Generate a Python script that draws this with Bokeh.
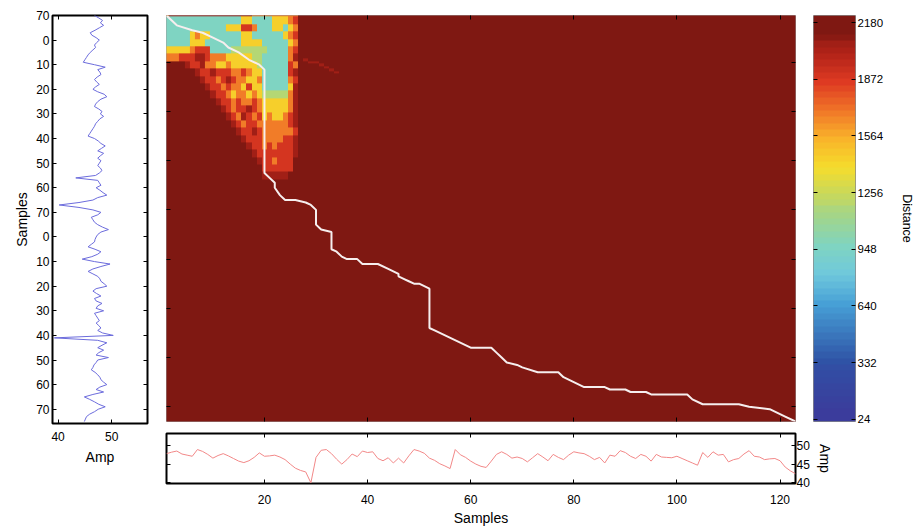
import numpy as np
from bokeh.plotting import figure
from bokeh.models import Range1d, LinearAxis, FixedTicker, LinearColorMapper
from bokeh.layouts import row, column
from bokeh.embed import file_html
from bokeh.resources import INLINE

FONT = "Liberation Sans"

# ---------------------------------------------------------------- data
# query signal (vertical, left panel), one value per sample 1..166
QUERY_AMP = [
    46.8, 47.6, 48.3, 47.9, 48.5, 47.7, 46.9, 46.0, 46.3, 47.1,
    47.7, 47.2, 46.8, 47.0, 46.5, 46.0, 45.6, 45.3, 45.0, 44.7,
    46.8, 48.8, 47.4, 47.8, 48.0, 47.3, 46.8, 47.2, 47.7, 47.0,
    46.5, 47.4, 48.6, 49.1, 48.0, 47.4, 47.0, 46.8, 47.6, 48.2,
    47.9, 48.5, 47.8, 47.4, 47.0, 46.8, 46.5, 46.2, 45.9, 45.6,
    46.8, 47.5, 48.0, 48.8, 48.1, 47.4, 48.5, 47.9, 47.4, 48.0,
    47.7, 47.4, 47.9, 48.2, 47.7, 47.0, 43.3, 47.4, 47.7, 48.0,
    47.1, 47.8, 48.4, 49.1, 47.4, 46.5, 43.9, 40.2, 43.9, 46.5,
    48.0, 47.4, 46.2, 46.5, 46.8, 47.4, 48.3, 49.4, 48.0, 47.4,
    47.1, 46.9, 46.8, 46.2, 45.6, 46.9, 48.0, 47.4, 46.3, 44.5,
    46.8, 49.7, 48.0, 46.5, 45.6, 46.5, 47.4, 47.8, 48.0, 48.6,
    49.1, 47.1, 46.5, 47.2, 48.0, 46.8, 47.1, 48.2, 47.4, 47.1,
    48.5, 46.8, 47.1, 47.4, 47.7, 47.1, 47.6, 48.0, 47.4, 48.3,
    50.3, 39.3, 47.4, 49.1, 48.2, 47.4, 48.5, 47.6, 47.1, 49.4,
    47.4, 47.1, 46.7, 46.5, 46.2, 46.9, 47.4, 47.8, 48.0, 48.5,
    49.1, 47.8, 47.1, 48.5, 46.5, 44.9, 45.9, 46.8, 47.6, 48.8,
    47.5, 46.8, 45.9, 45.3, 45.1, 44.9,
]

# reference signal (horizontal, bottom panel), one value per sample 1..123
REF_AMP = [
    47.8, 48.2, 48.5, 47.7, 47.4, 47.1, 48.9, 48.4, 47.6, 46.6,
    47.3, 47.8, 47.2, 46.5, 45.8, 45.4, 45.9, 46.8, 48.0, 47.1,
    47.2, 47.4, 46.9, 46.2, 45.0, 43.9, 43.3, 42.9, 40.0, 46.8,
    48.7, 48.9, 47.8, 46.3, 45.0, 46.2, 47.7, 47.0, 48.5, 48.1,
    48.3, 46.5, 45.9, 46.7, 45.3, 46.6, 45.3, 47.2, 48.9, 48.5,
    47.9, 46.6, 46.0, 45.1, 44.5, 43.8, 48.9, 47.5, 46.8, 45.8,
    45.0, 44.4, 44.1, 45.8, 47.6, 48.3, 47.6, 46.6, 46.9, 46.5,
    45.6, 46.7, 47.8, 46.9, 45.9, 47.6, 46.8, 46.2, 47.4, 48.3,
    48.0, 47.8, 47.1, 46.2, 46.8, 45.3, 47.4, 47.1, 48.6, 48.1,
    47.1, 46.5, 47.6, 47.1, 45.8, 47.6, 46.9, 46.8, 46.7, 47.1,
    46.5, 45.9, 45.3, 44.7, 48.1, 46.8, 48.3, 47.4, 47.6, 45.6,
    46.2, 46.5, 47.7, 48.6, 47.1, 46.9, 46.2, 46.4, 46.5, 45.9,
    44.2, 43.2, 42.4,
]

# accumulated distance matrix: everything outside the explored corner
# saturates at the top of the scale
DIST_MAX = 2180
DIST_LEVELS = {"R": 2180, "d": 2060, "r": 1880, "o": 1690,
               "y": 1440, "g": 1180, "c": 960}
CORNER_TOP_ROW = "oddddddddddddddddooooooooo"
# each band covers three rows (rows 2-4, 5-7, ...), columns 1..26
CORNER_BANDS = [
    "cccccccccccccccyyccccyyyor",
    "ccccccccccccyyyrrocccyycyo",
    "cccccyoyyccccccyyccccccyor",
    "cccccyyycccccccyyyycccccyo",
    "yyyyyorrrccccgggggggccccor",
    "ooorrrddroooyyyyyggcccccod",
    "RRRRdrrdooyyoyyyyygcccccro",
    "RRRRRRdrrdrrrooroyycccccrd",
    "RRRRRRRdrrordrooyyocccccor",
    "RRRRRRRRdrrorooyryycccccyd",
    "RRRRRRRRRdrroyooyoygggggod",
    "RRRRRRRRRRdrrorooroyyyyyod",
    "RRRRRRRRRRRdrorrdroyyyyyod",
    "RRRRRRRRRRRRdrodroryoyyord",
    "RRRRRRRRRRRRRdrorroooooord",
    "RRRRRRRRRRRRRRdrrdroooooor",
    "RRRRRRRRRRRRRRRdrrroooorrd",
    "RRRRRRRRRRRRRRRRdrrororrrd",
    "RRRRRRRRRRRRRRRRRdrrrrrrrd",
    "RRRRRRRRRRRRRRRRRRdrrorrrR",
    "RRRRRRRRRRRRRRRRRRRrrrrrrR",
    "RRRRRRRRRRRRRRRRRRRdddddRR",
]
STREAK_COLS = [28, 29, 30, 31, 32, 33, 34]
STREAK_ROWS = [19, 20, 20, 21, 22, 23, 24]
STREAK_DIST = 2050

# optimal warping path (reference sample, query sample)
PATH_REF = [1, 3, 6, 8, 10, 12, 13, 15, 17, 19, 20, 20, 21, 22, 22, 23, 24, 26,
            28, 29, 30, 30, 31, 33, 33, 34, 35, 36, 38, 39, 42, 44, 46, 46, 47,
            48, 49, 50, 52, 52, 53, 60, 64, 65, 66, 67, 69, 70, 73, 77, 78, 82,
            86, 87, 90, 91, 94, 95, 102, 103, 105, 112, 114, 118, 120, 121, 123]
PATH_QRY = [1, 5, 7, 8, 10, 12, 14, 16, 19, 21, 23, 65, 67, 69, 71, 74, 76, 76,
            77, 78, 80, 86, 88, 89, 96, 97, 99, 100, 100, 102, 102, 104, 106,
            107, 108, 109, 110, 110, 112, 128, 129, 136, 136, 138, 140, 142,
            143, 144, 146, 146, 148, 152, 152, 153, 153, 154, 154, 155, 155,
            157, 159, 159, 160, 161, 163, 164, 166]

QUERY_TICKS = [1, 11, 21, 31, 41, 51, 61, 71, 81, 91, 101, 111, 121, 131, 141, 151, 161]
QUERY_TICK_LABELS = ["70", "0", "10", "20", "30", "40", "50", "60", "70",
                     "0", "10", "20", "30", "40", "50", "60", "70"]
SAMPLE_TICKS = [20, 40, 60, 80, 100, 120]
QUERY_GRID_TICKS = [20, 40, 60, 80, 100, 120, 140, 160]
AMP_TICKS_LEFT = [40, 50]
AMP_TICKS_BOTTOM = [40, 45, 50]
DIST_TICKS = [24, 332, 640, 948, 1256, 1564, 1872, 2180]

# colour scale anchors (distance value -> colour)
CMAP_STOPS = [24, 332, 640, 800, 948, 1100, 1256, 1410, 1564, 1720, 1872, 2030, 2180]
CMAP_COLORS = ["#3b3c9c", "#2f53a6", "#47a0d6", "#6fc8dc", "#7fd4c2", "#9fd58e",
               "#c4d860", "#f5dc2c", "#f9b42a", "#f07428", "#de3a22", "#b02218",
               "#7f1812"]


# ---------------------------------------------------------------- helpers
def build_palette(n=64):
    rgb = np.array([[int(c[i:i + 2], 16) for i in (1, 3, 5)] for c in CMAP_COLORS], float)
    stops = np.array(CMAP_STOPS, float)
    vals = np.linspace(stops[0], stops[-1], n)
    out = []
    for v in vals:
        r, g, b = (np.interp(v, stops, rgb[:, k]) for k in range(3))
        out.append("#%02x%02x%02x" % (int(round(r)), int(round(g)), int(round(b))))
    return out


def build_distance(n_qry, n_ref):
    grid = np.full((n_qry, n_ref), float(DIST_MAX))
    for j, ch in enumerate(CORNER_TOP_ROW):
        grid[0, j] = DIST_LEVELS[ch]
    for b, band in enumerate(CORNER_BANDS):
        for k in range(3):
            r = 1 + 3 * b + k
            if r >= n_qry:
                continue
            for j, ch in enumerate(band):
                grid[r, j] = DIST_LEVELS[ch]
    for c, r in zip(STREAK_COLS, STREAK_ROWS):
        grid[r - 1, c - 1] = STREAK_DIST
    return grid


def style_axis(ax, ticks, labels=True, label_size="12px", standoff=3):
    ax.ticker = FixedTicker(ticks=ticks)
    ax.axis_line_color = None
    ax.major_tick_in = 4
    ax.major_tick_out = 0
    ax.major_tick_line_color = "black"
    ax.minor_tick_line_color = None
    ax.major_label_text_font = FONT
    ax.axis_label_text_font = FONT
    ax.axis_label_text_font_style = "normal"
    ax.axis_label_text_font_size = "14px"
    ax.axis_label_text_color = "black"
    if labels:
        ax.major_label_text_color = "black"
        ax.major_label_text_font_size = label_size
        ax.major_label_standoff = standoff
    else:
        # tick marks only: the mirrored frame edges carry no numbers
        ax.major_label_text_color = None
        ax.major_label_text_alpha = 0
        ax.major_label_text_font_size = "0px"
        ax.major_label_standoff = 0


def base_figure(**kw):
    p = figure(toolbar_location=None, output_backend="svg", **kw)
    p.grid.visible = False
    p.background_fill_color = "white"
    p.border_fill_color = "white"
    return p


palette = build_palette(64)
mapper = LinearColorMapper(palette=palette, low=CMAP_STOPS[0], high=CMAP_STOPS[-1])

n_qry, n_ref = len(QUERY_AMP), len(REF_AMP)
qry_idx = np.arange(1, n_qry + 1)
ref_idx = np.arange(1, n_ref + 1)
dist = build_distance(n_qry, n_ref)

# ---------------------------------------------------------------- left: query signal
left = base_figure(width=160, height=528,
                   x_range=Range1d(38.95, 56.7), y_range=Range1d(166.8, 1),
                   min_border_left=52, min_border_right=13,
                   min_border_top=15, min_border_bottom=105)
left.outline_line_color = "black"
left.outline_line_width = 2
left.line(QUERY_AMP, qry_idx, line_color="#6c6cdc", line_width=1)
style_axis(left.xaxis[0], AMP_TICKS_LEFT, standoff=8)
left.xaxis[0].axis_label = "Amp"
left.xaxis[0].axis_label_standoff = 5
style_axis(left.yaxis[0], QUERY_TICKS, standoff=3)
left.yaxis[0].major_label_overrides = {t: s for t, s in zip(QUERY_TICKS, QUERY_TICK_LABELS)}
left.yaxis[0].axis_label = "Samples"
left.yaxis[0].axis_label_standoff = 3
ax = LinearAxis(); style_axis(ax, QUERY_TICKS, labels=False); left.add_layout(ax, "right")
ax = LinearAxis(); style_axis(ax, AMP_TICKS_LEFT, labels=False); left.add_layout(ax, "above")

# ---------------------------------------------------------------- main: distance matrix
x_rng = Range1d(1, 123)
main = base_figure(width=650, height=427, x_range=x_rng, y_range=Range1d(166, 1),
                   min_border_left=6, min_border_right=15,
                   min_border_top=15, min_border_bottom=6)
main.outline_line_color = "#9a9a9a"
main.outline_line_width = 1
main.image(image=[dist], x=0.5, y=0.5, dw=n_ref, dh=n_qry, color_mapper=mapper)
main.line(PATH_REF, PATH_QRY, line_color="#f6eeee", line_width=2)
style_axis(main.xaxis[0], SAMPLE_TICKS, labels=False)
style_axis(main.yaxis[0], QUERY_GRID_TICKS, labels=False)
ax = LinearAxis(); style_axis(ax, QUERY_GRID_TICKS, labels=False); main.add_layout(ax, "right")
ax = LinearAxis(); style_axis(ax, SAMPLE_TICKS, labels=False); main.add_layout(ax, "above")

# ---------------------------------------------------------------- colour bar
cb_lo, cb_hi = 12, 2219
cbar = base_figure(width=107, height=427, x_range=Range1d(0, 1),
                   y_range=Range1d(cb_lo, cb_hi), y_axis_location="right",
                   min_border_left=3, min_border_right=56,
                   min_border_top=15, min_border_bottom=5)
cbar.outline_line_color = "#8a8a8a"
cbar.outline_line_width = 1
cbar.xaxis.visible = False
bar_vals = np.linspace(cb_lo, cb_hi, 64).reshape(64, 1)
cbar.image(image=[bar_vals], x=0, y=cb_lo, dw=1, dh=cb_hi - cb_lo, color_mapper=mapper)
style_axis(cbar.yaxis[0], DIST_TICKS, label_size="11.5px", standoff=2)
cbar.yaxis[0].axis_label = "Distance"
cbar.yaxis[0].axis_label_text_font_size = "12.5px"
cbar.yaxis[0].axis_label_standoff = 14
ax = LinearAxis(); style_axis(ax, DIST_TICKS, labels=False); cbar.add_layout(ax, "left")

# ---------------------------------------------------------------- bottom: reference signal
bot = base_figure(width=757, height=101, x_range=x_rng,
                  y_range=Range1d(39.8, 53.2), y_axis_location="right",
                  min_border_left=6, min_border_right=122,
                  min_border_top=6, min_border_bottom=45)
bot.outline_line_color = "black"
bot.outline_line_width = 2
bot.line(ref_idx, REF_AMP, line_color="#f28888", line_width=1)
style_axis(bot.xaxis[0], SAMPLE_TICKS, standoff=11)
bot.xaxis[0].axis_label = "Samples"
bot.xaxis[0].axis_label_standoff = 3
style_axis(bot.yaxis[0], AMP_TICKS_BOTTOM, standoff=1)
bot.yaxis[0].axis_label = "Amp"
bot.yaxis[0].axis_label_standoff = 4
ax = LinearAxis(); style_axis(ax, AMP_TICKS_BOTTOM, labels=False); bot.add_layout(ax, "left")
ax = LinearAxis(); style_axis(ax, SAMPLE_TICKS, labels=False); bot.add_layout(ax, "above")

layout = row(left, column(row(main, cbar), bot))

open("out.html", "w").write(file_html(layout, INLINE))
